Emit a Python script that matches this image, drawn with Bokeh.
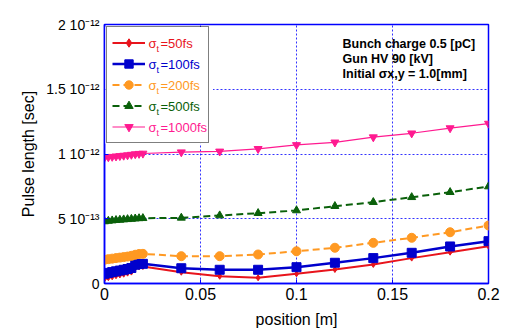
from bokeh.plotting import figure
from bokeh.models import Legend, LegendItem, Label, FixedTicker, Range1d, BoxAnnotation
from bokeh.embed import file_html
from bokeh.resources import INLINE

# positions [m]
position = [0.000, 0.002, 0.004, 0.006, 0.008, 0.010, 0.012, 0.014, 0.016, 0.018, 0.020,
            0.04, 0.06, 0.08, 0.10, 0.12, 0.14, 0.16, 0.18, 0.20]

# pulse length in units of 1e-12 s
pulse_50fs = [0.036, 0.045, 0.052, 0.060, 0.066, 0.072, 0.080, 0.088, 0.120, 0.130, 0.131,
              0.087, 0.056, 0.044, 0.075, 0.108, 0.147, 0.196, 0.242, 0.288]
pulse_100fs = [0.075, 0.082, 0.088, 0.094, 0.100, 0.106, 0.112, 0.120, 0.145, 0.150, 0.152,
               0.118, 0.106, 0.106, 0.126, 0.160, 0.196, 0.237, 0.286, 0.327]
pulse_200fs = [0.183, 0.188, 0.192, 0.196, 0.200, 0.204, 0.208, 0.214, 0.222, 0.228, 0.229,
               0.211, 0.211, 0.224, 0.249, 0.276, 0.314, 0.353, 0.396, 0.448]
pulse_500fs = [0.479, 0.483, 0.486, 0.489, 0.491, 0.494, 0.496, 0.498, 0.501, 0.503, 0.504,
               0.507, 0.525, 0.543, 0.564, 0.597, 0.628, 0.666, 0.705, 0.749]
pulse_1000fs = [0.973, 0.976, 0.979, 0.982, 0.985, 0.988, 0.991, 0.995, 0.999, 1.002, 1.004,
                1.014, 1.020, 1.040, 1.070, 1.090, 1.130, 1.160, 1.200, 1.235]

series_names = ["=50fs", "=100fs", "=200fs", "=500fs", "=1000fs"]
x_ticks = [0, 0.05, 0.1, 0.15, 0.2]
x_tick_labels = ["0", "0.05", "0.1", "0.15", "0.2"]
y_ticks = [0, 0.5, 1.0, 1.5, 2.0]
y_tick_labels = ["0", "5 10\u207b\u00b9\u00b3", "1 10\u207b\u00b9\u00b2", "1.5 10\u207b\u00b9\u00b2", "2 10\u207b\u00b9\u00b2"]
info_lines = ["Bunch charge 0.5 [pC]", "Gun HV 90 [kV]", "Initial \u03c3x,y = 1.0[mm]"]

FONT = "Liberation Sans"
BLUE = "#0000ff"

p = figure(width=511, height=331, output_backend="svg", toolbar_location=None,
           x_range=Range1d(0, 0.2), y_range=Range1d(0, 2.0),
           min_border_left=104, min_border_right=23, min_border_top=24, min_border_bottom=48)

p.outline_line_color = BLUE
p.outline_line_width = 1.5
p.background_fill_color = "white"
p.border_fill_color = "white"

for ax in (p.xaxis[0], p.yaxis[0]):
    ax.axis_line_color = BLUE
    ax.axis_line_width = 1.5
    ax.major_tick_line_color = BLUE
    ax.major_tick_in = 4
    ax.major_tick_out = 0
    ax.minor_tick_line_color = None
    ax.major_label_text_font = FONT
    ax.major_label_text_color = "black"
    ax.axis_label_text_font = FONT
    ax.axis_label_text_font_style = "normal"
    ax.axis_label_text_font_size = "16px"
    ax.axis_label_text_color = "black"

p.xaxis.ticker = FixedTicker(ticks=x_ticks)
p.xaxis.major_label_overrides = {t: l for t, l in zip(x_ticks, x_tick_labels)}
p.xaxis.major_label_text_font_size = "16px"
p.xaxis.major_label_standoff = 4
p.xaxis.axis_label = "position [m]"
p.xaxis.axis_label_standoff = 8

p.yaxis.ticker = FixedTicker(ticks=y_ticks)
p.yaxis.major_label_overrides = {t: l for t, l in zip(y_ticks, y_tick_labels)}
p.yaxis.major_label_text_font_size = "14px"
p.yaxis.major_label_standoff = 5
p.yaxis.axis_label = "Pulse length [sec]"
p.yaxis.axis_label_standoff = 6

p.xgrid.ticker = FixedTicker(ticks=[0.05, 0.1, 0.15])
p.ygrid.ticker = FixedTicker(ticks=[0.5, 1.0, 1.5])
for g in (p.xgrid[0], p.ygrid[0]):
    g.grid_line_color = BLUE
    g.grid_line_dash = "2 2"
    g.grid_line_width = 1
    g.grid_line_alpha = 0.8

colors = ["#e8141c", "#0000cc", "#ff9922", "#0a600a", "#ff1a90"]
data = [pulse_50fs, pulse_100fs, pulse_200fs, pulse_500fs, pulse_1000fs]
markers = ["diamond", "square", "circle", "triangle", "inverted_triangle"]
msizes = [6, 9, 9, 8, 8]
lwidths = [2, 2.5, 2, 2, 1.2]
dashes = ["solid", "solid", "7 4", "7 4", "solid"]

items = []
for vals, c, m, ms, lw, d, name in zip(data, colors, markers, msizes, lwidths, dashes, series_names):
    r1 = p.line(position, vals, line_color=c, line_width=lw, line_dash=d)
    r2 = p.scatter(position, vals, marker=m, size=ms, fill_color=c, line_color=c)
    items.append(LegendItem(label=name, renderers=[r1, r2]))

# white background behind the legend (legend itself is transparent so coloured texts show)
p.add_layout(BoxAnnotation(left=0.0005, right=0.0565, bottom=1.08, top=1.98,
                           fill_color="white", fill_alpha=1.0, line_color=None))

# coloured legend texts (sigma with subscript t)
for i, (c, name) in enumerate(zip(colors, series_names)):
    yc = (283 - (43 + 21 * i)) / 129.5
    p.add_layout(Label(x=0.0229, y=yc, text="\u03c3", text_color=c, text_font=FONT,
                       text_font_size="13px", text_baseline="middle"))
    p.add_layout(Label(x=0.0229 + 8 / 1920, y=yc - 5 / 129.5, text="t", text_color=c, text_font=FONT,
                       text_font_size="9px", text_baseline="middle"))
    p.add_layout(Label(x=0.0229 + 12 / 1920, y=yc, text=name, text_color=c, text_font=FONT,
                       text_font_size="13px", text_baseline="middle"))

legend = Legend(items=items, location=(2, 140), orientation="vertical",
                label_text_alpha=0, label_text_font_size="13px",
                glyph_width=33, glyph_height=21, label_height=21, label_width=56,
                label_standoff=2, spacing=0, padding=5, margin=0,
                border_line_color="black", border_line_width=1.5,
                background_fill_alpha=0.0)
p.add_layout(legend, "center")

for i, line in enumerate(info_lines):
    p.add_layout(Label(x=0.124, y=(283 - (43 + 15 * i)) / 129.5, text=line, text_color="black",
                       text_font=FONT, text_font_size="12.5px", text_font_style="bold",
                       text_baseline="middle"))

open("out.html", "w").write(file_html(p, INLINE))
